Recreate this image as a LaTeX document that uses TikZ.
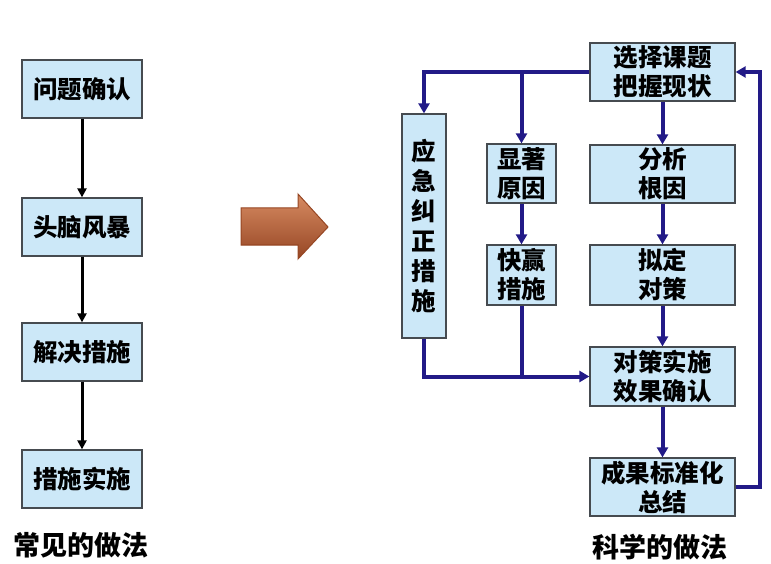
\documentclass[tikz,border=0pt]{standalone}
\usepackage{fontspec}
\newfontfamily\cjk{Noto Sans CJK SC}
\usetikzlibrary{arrows.meta}
\definecolor{boxblue}{RGB}{204,232,248}
\definecolor{navy}{RGB}{34,26,135}
\definecolor{boxline}{RGB}{70,75,80}
\definecolor{rust}{RGB}{205,110,60}
\definecolor{rustdark}{RGB}{150,70,35}
\begin{document}
\begin{tikzpicture}[x=1pt,y=-1pt]
	\tikzset{box/.style={draw=boxline,fill=boxblue,line width=1.3pt,inner sep=0pt,align=center,font=\cjk\bfseries\fontsize{24.5}{29}\selectfont}}
	\tikzset{line/.style={draw,line width=4pt,navy}}
	\tikzset{arrow/.style={line,-{Triangle[length=10pt,width=11pt]}}}
	\tikzset{blackarrow/.style={draw,line width=3pt,black,-{Triangle[length=9pt,width=9pt]}}}
	\tikzset{caption/.style={font=\cjk\bfseries\fontsize{27}{30}\selectfont}}

	\useasboundingbox (0,0) rectangle (771,564);

	% usual way
	\node[box,minimum width=120pt,minimum height=58pt] (q1) at (82,89) {问题确认};
	\node[box,minimum width=120pt,minimum height=58pt] (q2) at (82,227) {头脑风暴};
	\node[box,minimum width=120pt,minimum height=58pt] (q3) at (82,352) {解决措施};
	\node[box,minimum width=120pt,minimum height=58pt] (q4) at (82,479) {措施实施};
	\node[caption] (usual) at (81,545) {常见的做法};

	\path[blackarrow] (q1) -- (q2);
	\path[blackarrow] (q2) -- (q3);
	\path[blackarrow] (q3) -- (q4);

	% big arrow
	\draw[rustdark,line width=1pt,top color=rust!80!white,bottom color=rustdark]
		(241,208) -- (298,208) -- (298,194) -- (328,227) -- (298,259) -- (298,245) -- (241,245) -- cycle;

	% scientific way
	\node[box,minimum width=145pt,minimum height=58pt] (select) at (662.5,72) {选择课题\\把握现状};
	\node[box,minimum width=44pt,minimum height=224pt,font=\cjk\bfseries\fontsize{24.5}{30}\selectfont] (emerg) at (424,226) {应\\急\\纠\\正\\措\\施};
	\node[box,minimum width=69pt,minimum height=59pt] (cause) at (521.5,173.5) {显著\\原因};
	\node[box,minimum width=145pt,minimum height=58pt] (root) at (662.5,174) {分析\\根因};
	\node[box,minimum width=69pt,minimum height=60pt] (quick) at (521.5,275) {快赢\\措施};
	\node[box,minimum width=145pt,minimum height=60pt] (plan) at (662.5,275) {拟定\\对策};
	\node[box,minimum width=145pt,minimum height=59pt] (exec) at (662.5,376.5) {对策实施\\效果确认};
	\node[box,minimum width=145pt,minimum height=58pt] (std) at (662.5,487) {成果标准化\\总结};
	\node[caption] (science) at (660,547) {科学的做法};

	\coordinate (loop) at (760,487);

	\path[arrow] (select.west) -| (emerg.north);
	\path[arrow] (cause.north |- select.west) -- (cause.north);
	\path[arrow] (cause) -- (quick);
	\path[arrow] (select) -- (root);
	\path[arrow] (root) -- (plan);
	\path[arrow] (plan) -- (exec);
	\path[arrow] (exec) -- (std);
	\path[arrow] (emerg.south) |- (exec.west);
	\path[line] (quick.south) -- (quick.south |- exec.west);
	\path[arrow] (std.east) -- (loop) |- (select.east);
\end{tikzpicture}
\end{document}
